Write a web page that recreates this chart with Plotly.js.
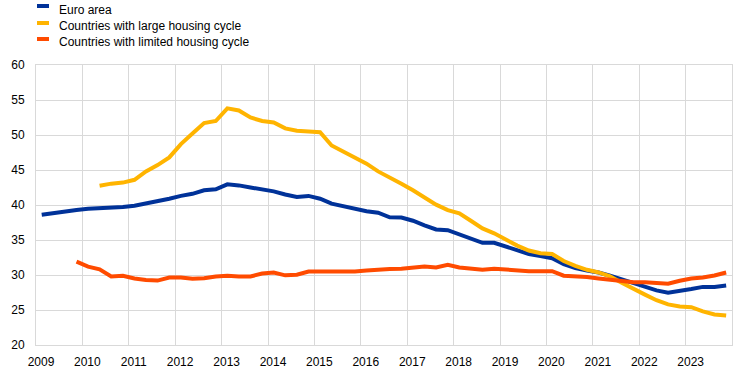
<!DOCTYPE html>
<html>
<head>
<meta charset="utf-8">
<script src="https://cdn.plot.ly/plotly-3.0.1.min.js"></script>
<style>
html,body{margin:0;padding:0;background:#fff;}
#chart{width:755px;height:373px;}
</style>
</head>
<body>
<div id="chart"></div>
<script>
// Quarterly observations (first month of each quarter)
var quarters = [
  "2009-01","2009-04","2009-07","2009-10",
  "2010-01","2010-04","2010-07","2010-10",
  "2011-01","2011-04","2011-07","2011-10",
  "2012-01","2012-04","2012-07","2012-10",
  "2013-01","2013-04","2013-07","2013-10",
  "2014-01","2014-04","2014-07","2014-10",
  "2015-01","2015-04","2015-07","2015-10",
  "2016-01","2016-04","2016-07","2016-10",
  "2017-01","2017-04","2017-07","2017-10",
  "2018-01","2018-04","2018-07","2018-10",
  "2019-01","2019-04","2019-07","2019-10",
  "2020-01","2020-04","2020-07","2020-10",
  "2021-01","2021-04","2021-07","2021-10",
  "2022-01","2022-04","2022-07","2022-10",
  "2023-01","2023-04","2023-07","2023-10"
];

var seriesNames = ["Euro area", "Countries with large housing cycle", "Countries with limited housing cycle"];

// Euro area: 2009 Q1 - 2023 Q4
var euroArea = [
  38.6, 38.85, 39.1, 39.3,
  39.45, 39.5, 39.6, 39.7,
  39.9, 40.2, 40.5, 40.9,
  41.3, 41.6, 42.1, 42.25,
  42.95, 42.8, 42.5, 42.2,
  41.95, 41.5, 41.15, 41.3,
  40.9, 40.2, 39.8, 39.5,
  39.1, 38.9, 38.25, 38.2,
  37.75, 37.1, 36.5, 36.4,
  35.85, 35.2, 34.6, 34.6,
  34.05, 33.45, 33.0, 32.7,
  32.4, 31.55, 31.0, 30.65,
  30.36, 29.9, 29.35, 28.9,
  28.3, 27.8, 27.47, 27.8,
  28.0, 28.3, 28.3, 28.5
];

// Countries with large housing cycle: 2010 Q2 - 2023 Q4
var largeStart = "2010-04";
var largeCycle = [
  42.75, 43.05, 43.2,
  43.6, 44.8, 45.7, 46.8,
  48.7, 50.2, 51.7, 52.0,
  53.8, 53.5, 52.5, 52.0,
  51.8, 50.95, 50.6, 50.5,
  50.4, 48.5, 47.6, 46.7,
  45.9, 44.8, 44.0, 43.05,
  42.1, 41.05, 40.05, 39.26,
  38.8, 37.75, 36.65, 35.95,
  35.0, 34.2, 33.5, 33.1,
  33.0, 32.0, 31.3, 30.74,
  30.36, 29.8, 28.9, 28.0,
  27.2, 26.4, 25.8, 25.5,
  25.4, 24.8, 24.35, 24.2
];

// Countries with limited housing cycle: 2009 Q4 - 2023 Q4
var limitedStart = "2009-10";
var limitedCycle = [
  31.9,
  31.2, 30.8, 29.8, 29.9,
  29.5, 29.3, 29.2, 29.65,
  29.65, 29.45, 29.55, 29.8,
  29.9, 29.8, 29.8, 30.2,
  30.35, 29.95, 30.05, 30.5,
  30.5, 30.5, 30.5, 30.5,
  30.65, 30.8, 30.85, 30.9,
  31.07, 31.2, 31.07, 31.45,
  31.07, 30.88, 30.74, 30.9,
  30.74, 30.6, 30.55, 30.55,
  30.55, 29.9, 29.85, 29.7,
  29.5, 29.3, 29.15, 28.95,
  28.95, 28.85, 28.75, 29.18,
  29.5, 29.65, 29.93, 30.36
];

var yearTicks = ["2009","2010","2011","2012","2013","2014","2015","2016","2017","2018","2019","2020","2021","2022","2023"];
var yTicks = [20, 25, 30, 35, 40, 45, 50, 55, 60];

var colors = ["#003299", "#FFB400", "#FF4B00"];

function xFrom(start) { return quarters.slice(quarters.indexOf(start)); }

var traces = [
  {x: quarters, y: euroArea, name: seriesNames[0]},
  {x: xFrom(largeStart), y: largeCycle, name: seriesNames[1]},
  {x: xFrom(limitedStart), y: limitedCycle, name: seriesNames[2]}
].map(function (t, i) {
  return Object.assign(t, {
    type: "scatter", mode: "lines",
    xperiod: "M3", xperiodalignment: "middle",
    line: {color: colors[i], width: 4},
    showlegend: false, hoverinfo: "skip"
  });
});

// plot area in pixels
var L = 36, R = 732, T = 65, B = 345, W = 755, H = 373;
function px(x) { return (x - L) / (R - L); }
function py(y) { return (B - y) / (B - T); }

var shapes = [], annotations = [];
var rowY = [6, 23, 39];
var textY = [10, 26, 42];
seriesNames.forEach(function (n, i) {
  shapes.push({type: "rect", xref: "paper", yref: "paper",
    x0: px(37), x1: px(49), y0: py(rowY[i] - 2), y1: py(rowY[i] + 2),
    fillcolor: colors[i], line: {width: 0}});
  annotations.push({xref: "paper", yref: "paper", x: px(57), y: py(textY[i]),
    xanchor: "left", yanchor: "middle", showarrow: false, text: n,
    font: {family: "Liberation Sans, Arial, sans-serif", size: 12, color: "#000"}});
});

var layout = {
  width: W, height: H,
  margin: {l: L, r: W - R, t: T, b: H - B, pad: 0},
  paper_bgcolor: "#fff", plot_bgcolor: "#fff",
  font: {family: "Liberation Sans, Arial, sans-serif", size: 12, color: "#000"},
  showlegend: false,
  xaxis: {
    type: "date",
    range: ["2009-01-01", "2024-01-01"],
    tickmode: "array",
    tickvals: yearTicks.map(function (y) { return y + "-01-01"; }),
    ticktext: yearTicks,
    ticklabelshift: 5,
    ticklabelstandoff: 6,
    showgrid: true, gridcolor: "#d9d9d9", gridwidth: 1,
    showline: true, mirror: true, linecolor: "#d9d9d9", linewidth: 1,
    zeroline: false, ticks: "",
    tickfont: {size: 12, color: "#000"}
  },
  yaxis: {
    range: [20, 60],
    tickmode: "array",
    tickvals: yTicks,
    ticktext: yTicks.map(String),
    ticklabelstandoff: 8,
    showgrid: true, gridcolor: "#d9d9d9", gridwidth: 1,
    showline: true, mirror: true, linecolor: "#d9d9d9", linewidth: 1,
    zeroline: false, ticks: "",
    tickfont: {size: 12, color: "#000"}
  },
  shapes: shapes,
  annotations: annotations
};

Plotly.newPlot("chart", traces, layout, {displayModeBar: false, staticPlot: true});
</script>
</body>
</html>
